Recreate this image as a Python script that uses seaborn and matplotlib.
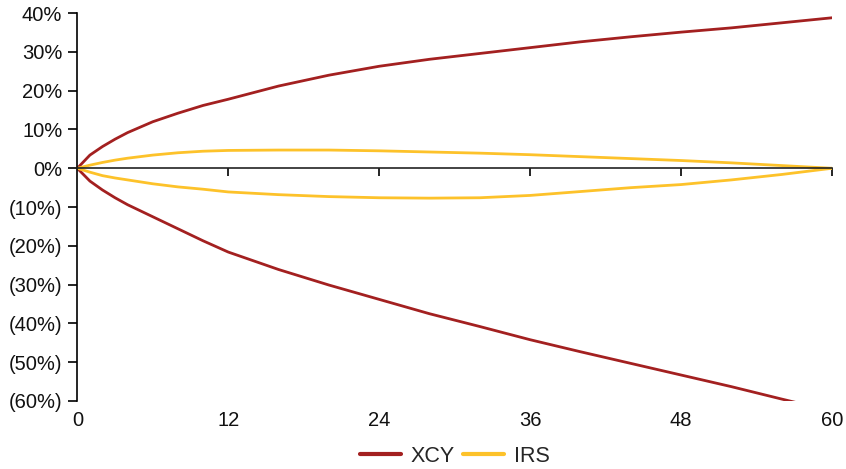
import pandas as pd
import seaborn as sns
import matplotlib.pyplot as plt
from matplotlib.lines import Line2D
from matplotlib.ticker import FuncFormatter

# Months and values (in %)
months = [0, 1, 2, 3, 4, 6, 8, 10, 12, 16, 20, 24, 28, 32, 36, 40, 44, 48, 52, 56, 60]
xcy_upper = [0, 3.4, 5.6, 7.5, 9.2, 12.0, 14.2, 16.2, 17.8, 21.2, 24.0, 26.3, 28.1,
             29.6, 31.1, 32.6, 33.9, 35.1, 36.2, 37.5, 38.8]
xcy_lower = [0, -3.3, -5.6, -7.6, -9.4, -12.5, -15.6, -18.7, -21.6, -26.1, -30.1, -33.8,
             -37.5, -40.8, -44.2, -47.3, -50.3, -53.3, -56.3, -59.5, -62.6]
irs_upper = [0, 0.8, 1.5, 2.1, 2.6, 3.4, 4.0, 4.4, 4.6, 4.7, 4.7, 4.5, 4.2, 3.9, 3.5,
             3.0, 2.5, 2.0, 1.4, 0.7, 0]
irs_lower = [0, -1.0, -1.9, -2.5, -3.0, -4.0, -4.8, -5.4, -6.1, -6.8, -7.3, -7.6, -7.7,
             -7.6, -7.0, -6.0, -5.0, -4.2, -3.0, -1.6, 0]

x_ticks = [0, 12, 24, 36, 48, 60]
y_ticks = list(range(-60, 41, 10))
colors = {'XCY': '#A32020', 'IRS': '#FDC22A'}

# long table, one line per branch
frames = []
for series, branch, vals in [('XCY', 'XCY upper', xcy_upper), ('XCY', 'XCY lower', xcy_lower),
                             ('IRS', 'IRS upper', irs_upper), ('IRS', 'IRS lower', irs_lower)]:
    frames.append(pd.DataFrame({'month': months, 'value': vals, 'series': series, 'branch': branch}))
df = pd.concat(frames, ignore_index=True)

sns.set_style('white')
plt.rcParams['font.family'] = ['Liberation Sans', 'DejaVu Sans']

fig = plt.figure(figsize=(8.46, 4.69), dpi=100)
ax = fig.add_axes([0.0914, 0.145, 0.892, 0.827])

sns.lineplot(data=df, x='month', y='value', hue='series', units='branch', estimator=None,
             palette=colors, linewidth=2, sort=False, legend=False, ax=ax)

ax.set_xlim(0, 60)
ax.set_ylim(-60, 40)
ax.set_xlabel('')
ax.set_ylabel('')

# axes lines
ax.spines[['top', 'right']].set_visible(False)
ax.spines['bottom'].set_position(('data', 0))
ax.spines['bottom'].set_color('#222222')
ax.spines['bottom'].set_linewidth(1.2)
ax.spines['left'].set_color('black')
ax.spines['left'].set_linewidth(1.2)

# ticks on the zero line, no labels there
ax.set_xticks(x_ticks[1:])
ax.tick_params(axis='x', bottom=True, direction='out', length=6, width=1.2,
               color='black', labelbottom=False)

# y axis
ax.set_yticks(y_ticks)
ax.yaxis.set_major_formatter(FuncFormatter(lambda v, p: f'{v:.0f}%' if v >= 0 else f'({-v:.0f}%)'))
ax.tick_params(axis='y', left=True, direction='out', length=6.5, width=1.2,
               color='black', labelsize=14.5, pad=4.3, labelcolor='#111111')

# month labels at the bottom of the plot
sec = ax.secondary_xaxis('bottom')
sec.set_xticks(x_ticks)
sec.tick_params(length=0, labelsize=14.5, pad=7.5, labelcolor='#111111')
sec.spines['bottom'].set_visible(False)

handles = [Line2D([], [], color=colors['XCY'], lw=3),
           Line2D([], [], color=colors['IRS'], lw=3)]
fig.legend(handles, ['XCY', 'IRS'], loc='center', bbox_to_anchor=(455 / 846, 1 - 456 / 469),
           ncol=2, frameon=False, fontsize=15.5, handlelength=1.9, handletextpad=0.45,
           columnspacing=0.4)

fig.savefig('out.png', dpi=100)
